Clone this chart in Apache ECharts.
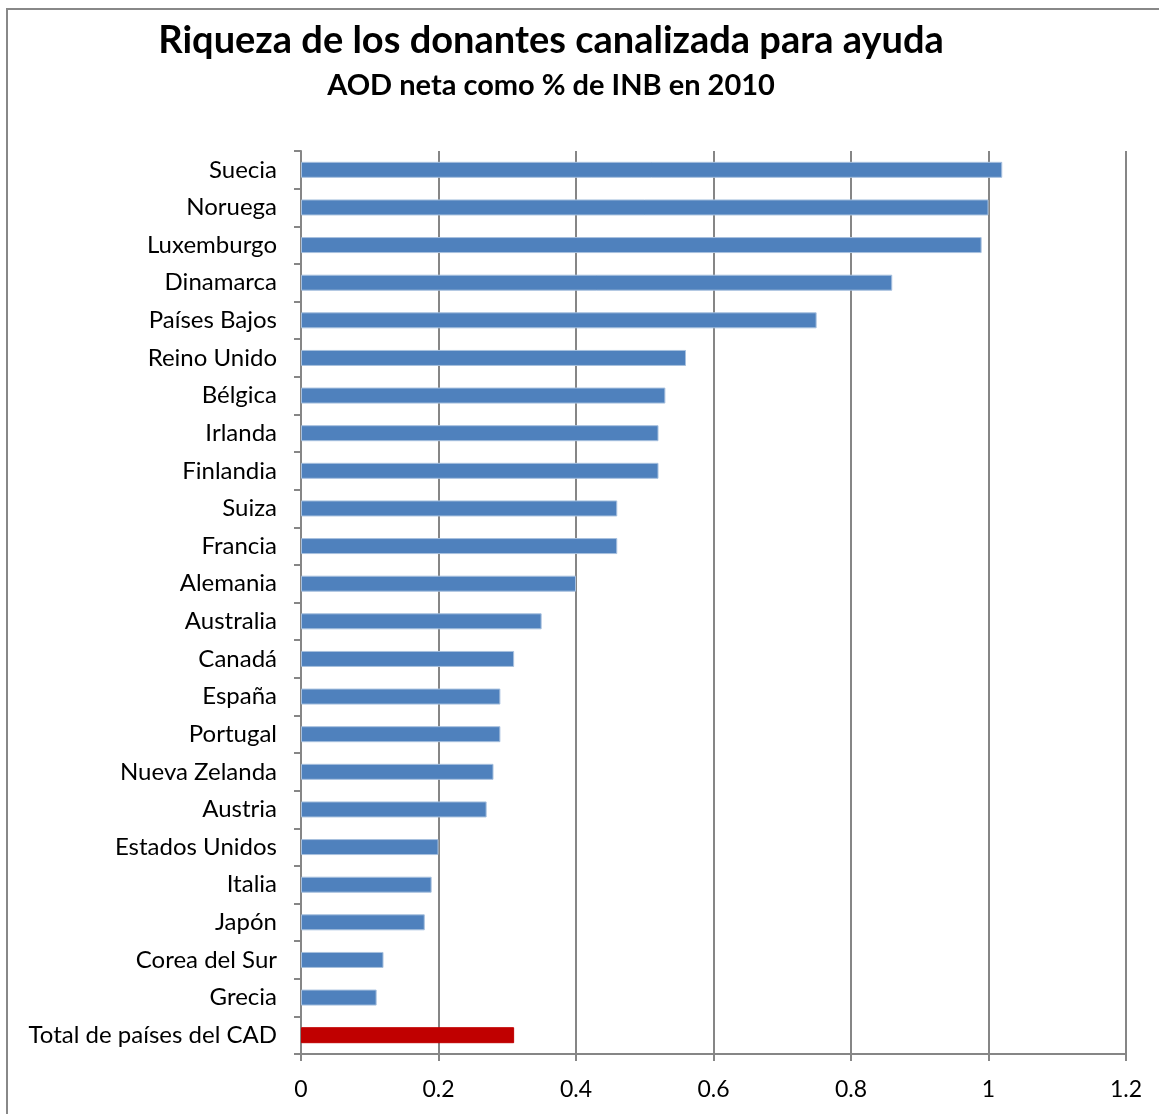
<!DOCTYPE html>
<html>
<head>
<meta charset="utf-8">
<script src="https://cdn.jsdelivr.net/npm/echarts@6/dist/echarts.min.js"></script>
<style>html,body{margin:0;padding:0;background:#fff}#c{width:1159px;height:1114px}</style>
</head>
<body>
<div id="c"></div>
<script>
const categories = ["Suecia","Noruega","Luxemburgo","Dinamarca","Países Bajos","Reino Unido","Bélgica","Irlanda","Finlandia","Suiza","Francia","Alemania","Australia","Canadá","España","Portugal","Nueva Zelanda","Austria","Estados Unidos","Italia","Japón","Corea del Sur","Grecia","Total de países del CAD"];
const values = [1.02,1.00,0.99,0.86,0.75,0.56,0.53,0.52,0.52,0.46,0.46,0.40,0.35,0.31,0.29,0.29,0.28,0.27,0.20,0.19,0.18,0.12,0.11,0.31];
const highlight = "Total de países del CAD";
const FONT = "Lato";
const chart = echarts.init(document.getElementById('c'));
chart.setOption({
  animation:false,
  backgroundColor:'#fff',
  title:[
    {text:'Riqueza de los donantes canalizada para ayuda',left:546,top:17,textAlign:'center',textStyle:{fontFamily:FONT,fontSize:38,fontWeight:'bold',color:'#000'}},
    {text:'AOD neta como % de INB en 2010',left:546,top:66,textAlign:'center',textStyle:{fontFamily:FONT,fontSize:29,fontWeight:'bold',color:'#000'}}
  ],
  graphic:[{type:'rect',shape:{x:7,y:9,width:1170,height:1130},style:{fill:'none',stroke:'#888',lineWidth:2}}],
  grid:{left:301,right:33,top:151,bottom:60},
  xAxis:{type:'value',min:0,max:1.2,interval:0.2,
    axisLine:{show:true,lineStyle:{color:'#868686',width:2}},
    axisTick:{show:true,length:7,lineStyle:{color:'#868686',width:2}},
    splitLine:{show:true,lineStyle:{color:'#868686',width:2}},
    axisLabel:{fontFamily:FONT,fontSize:23,color:'#000',margin:24,formatter:v=>String(Math.round(v*10)/10)}},
  yAxis:{type:'category',data:categories,inverse:true,
    axisLine:{show:true,lineStyle:{color:'#868686',width:2}},
    axisTick:{show:true,length:7,lineStyle:{color:'#868686',width:2}},
    axisLabel:{fontFamily:FONT,fontSize:24,color:'#000',margin:24}},
  series:[{type:'bar',barWidth:16,
    data:values.map((v,i)=>({value:v,itemStyle:{color:categories[i]===highlight?'#C00000':'#4F81BD',borderColor:categories[i]===highlight?'#C00000':'#A7C0DE',borderWidth:1}}))}]
});
</script>
</body>
</html>
